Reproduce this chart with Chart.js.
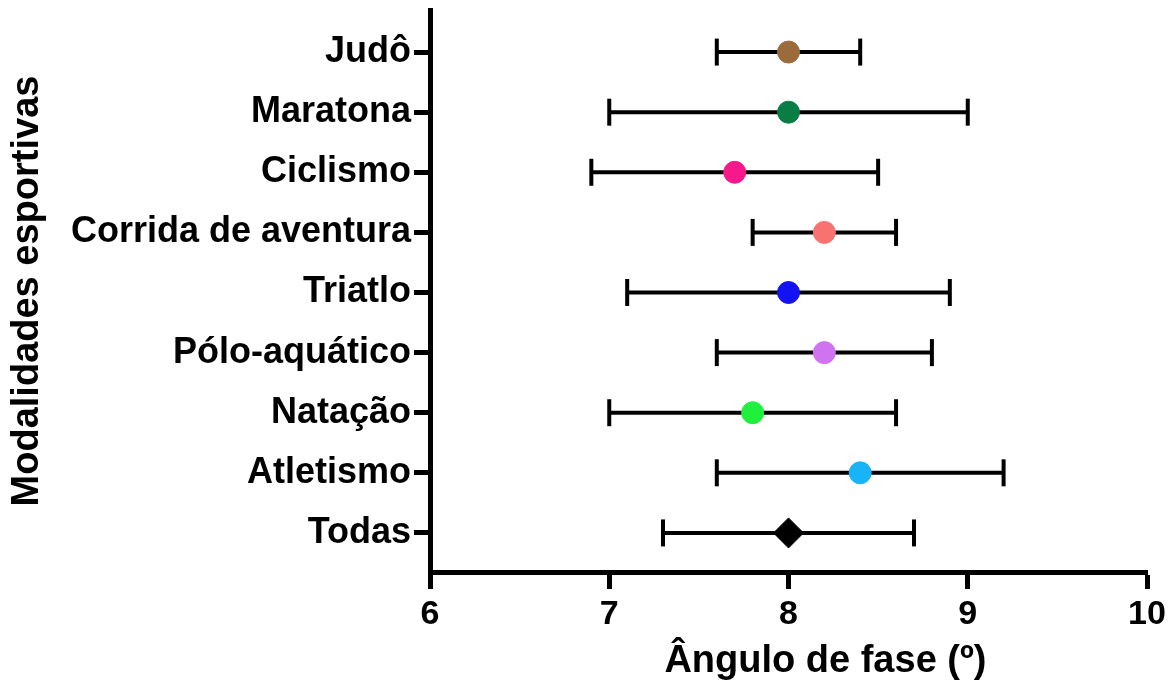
<!DOCTYPE html>
<html>
<head>
<meta charset="utf-8">
<script src="https://cdn.jsdelivr.net/npm/chart.js@4/dist/chart.umd.min.js"></script>
<style>
  html, body { margin: 0; padding: 0; background: #ffffff; }
  #wrap { width: 1175px; height: 686px; }
</style>
</head>
<body>
<div id="wrap"><canvas id="c" width="1175" height="686"></canvas></div>
<script>
// ---- data (bottom to top) ----
const categories = ['Todas', 'Atletismo', 'Natação', 'Pólo-aquático', 'Triatlo', 'Corrida de aventura', 'Ciclismo', 'Maratona', 'Judô'];
const means = [8.0, 8.4, 7.8, 8.2, 8.0, 8.2, 7.7, 8.0, 8.0];
const lows  = [7.3, 7.6, 7.0, 7.6, 7.1, 7.8, 6.9, 7.0, 7.6];
const highs = [8.7, 9.2, 8.6, 8.8, 8.9, 8.6, 8.5, 9.0, 8.4];
const markerColors = ['#000000', '#18b4f7', '#1ef03c', '#cf73f0', '#1212f2', '#f87272', '#f7198b', '#0a7d45', '#9c6b3c'];
const markerShapes = ['rectRot', 'circle', 'circle', 'circle', 'circle', 'circle', 'circle', 'circle', 'circle'];
const xTicks = [6, 7, 8, 9, 10];
const xTitle = 'Ângulo de fase (º)';
const yTitle = 'Modalidades esportivas';

const FONT = "'Liberation Sans', Arial, Helvetica, sans-serif";

const meanDataset = {
  label: 'média',
  data: categories.map((c, i) => ({ x: means[i], y: i + 1 })),
  pointStyle: markerShapes,
  pointRadius: markerShapes.map(s => s === 'rectRot' ? 15 : 11),
  pointBackgroundColor: markerColors,
  pointBorderColor: markerColors,
  pointBorderWidth: 1,
  showLine: false,
  order: 0
};

const rangeDatasets = categories.map((c, i) => ({
  label: c,
  data: [{ x: lows[i], y: i + 1 }, { x: highs[i], y: i + 1 }],
  showLine: true,
  borderColor: '#000000',
  borderWidth: 4,
  pointStyle: 'line',
  pointRotation: 90,
  pointRadius: 13.5,
  pointBorderWidth: 4,
  pointBorderColor: '#000000',
  pointBackgroundColor: '#000000',
  order: 1
}));

new Chart(document.getElementById('c'), {
  type: 'scatter',
  data: { datasets: [meanDataset, ...rangeDatasets] },
  options: {
    responsive: false,
    animation: false,
    events: [],
    layout: { autoPadding: false, padding: { top: 10, right: 28, left: 0, bottom: 0 } },
    plugins: { legend: { display: false }, tooltip: { enabled: false } },
    scales: {
      x: {
        type: 'linear',
        min: 6,
        max: 10,
        afterBuildTicks: (axis) => { axis.ticks = xTicks.map(v => ({ value: v })); },
        afterFit: (s) => { s.height = 114; },
        ticks: {
          color: '#000', padding: 5, maxRotation: 0, autoSkip: false,
          font: { family: FONT, size: 34, weight: 'bold' }
        },
        grid: { display: true, drawOnChartArea: false, drawTicks: true, tickLength: 17, tickWidth: 5, tickColor: '#000' },
        border: { display: true, color: '#000', width: 5 },
        title: {
          display: true, text: '       ' + xTitle, color: '#000',
          font: { family: FONT, size: 38, weight: 'bold' },
          padding: { top: 0, bottom: 2 }
        }
      },
      y: {
        type: 'linear',
        min: 0.35,
        max: 9.7,
        afterBuildTicks: (axis) => { axis.ticks = categories.map((c, i) => ({ value: i + 1 })); },
        afterFit: (s) => { s.width = 430; s.paddingTop = 0; s.paddingBottom = 0; },
        ticks: {
          color: '#000', padding: 3, autoSkip: false,
          callback: (v) => categories[Math.round(v) - 1],
          font: { family: FONT, size: 36, weight: 'bold' }
        },
        grid: { display: true, drawOnChartArea: false, drawTicks: true, tickLength: 16, tickWidth: 5, tickColor: '#000' },
        border: { display: true, color: '#000', width: 5 },
        title: {
          display: true, text: yTitle, color: '#000',
          font: { family: FONT, size: 38, weight: 'bold' },
          padding: { top: 5, bottom: 0 }
        }
      }
    }
  }
});
</script>
</body>
</html>
